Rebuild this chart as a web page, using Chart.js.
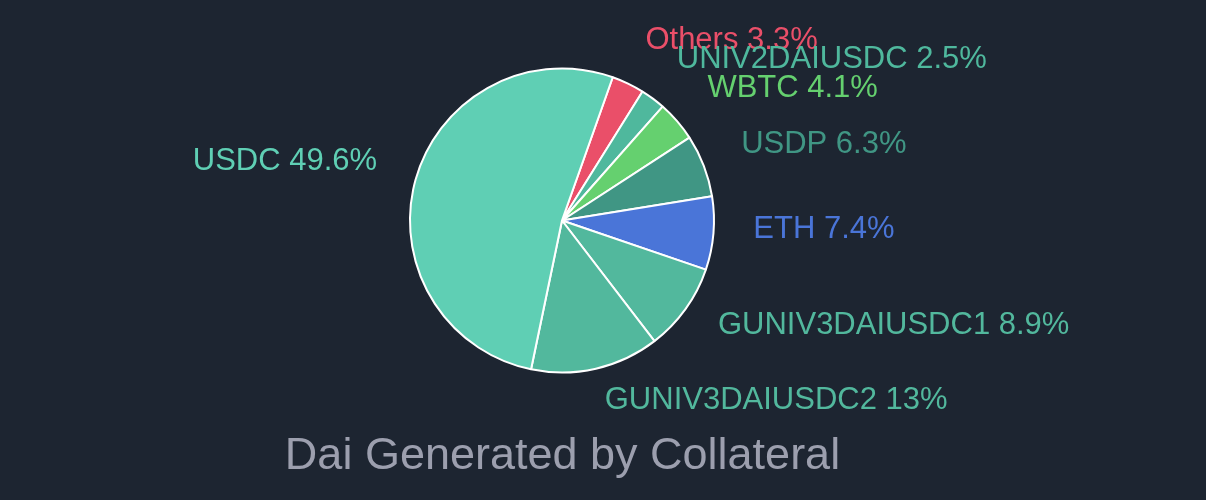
<!DOCTYPE html>
<html>
<head>
<meta charset="utf-8">
<script src="https://cdn.jsdelivr.net/npm/chart.js@4"></script>
<style>
  html, body { margin: 0; padding: 0; background: #1d2531; }
  #wrap { width: 1206px; height: 500px; position: relative; }
</style>
</head>
<body>
<div id="wrap"><canvas id="c" width="1206" height="500"></canvas></div>
<script>
// Data (listed clockwise from the top-right)
const categories = ['Others', 'UNIV2DAIUSDC', 'WBTC', 'USDP', 'ETH', 'GUNIV3DAIUSDC1', 'GUNIV3DAIUSDC2', 'USDC'];
const shares = [3.3, 2.5, 4.1, 6.3, 7.4, 8.9, 13, 49.6];
const shareLabels = ['3.3%', '2.5%', '4.1%', '6.3%', '7.4%', '8.9%', '13%', '49.6%'];
const sliceColors = ['#ea4f69', '#4fb89d', '#65d06f', '#409684', '#4a75d8', '#52b89d', '#52b89d', '#5fcfb4'];
const titleText = 'Dai Generated by Collateral';

const labelPlugin = {
  id: 'outerLabels',
  afterDatasetsDraw(chart) {
    const ctx = chart.ctx;
    const meta = chart.getDatasetMeta(0);
    ctx.save();
    ctx.font = '31px "Liberation Sans", Arial, sans-serif';
    ctx.textBaseline = 'middle';
    meta.data.forEach((arc, i) => {
      const p = arc.getProps(['x', 'y', 'startAngle', 'endAngle', 'outerRadius'], true);
      const mid = (p.startAngle + p.endAngle) / 2;
      const r = p.outerRadius + 40;
      const x = p.x + Math.cos(mid) * r;
      const y = p.y + Math.sin(mid) * r - 7;
      ctx.textAlign = Math.cos(mid) >= 0 ? 'left' : 'right';
      ctx.fillStyle = sliceColors[i];
      ctx.fillText(categories[i] + ' ' + shareLabels[i], x, y);
    });
    // title
    ctx.font = '45px "Liberation Sans", Arial, sans-serif';
    ctx.fillStyle = '#9c9fae';
    ctx.textAlign = 'center';
    ctx.fillText(titleText, 562.5, 457);
    ctx.restore();
  }
};

new Chart(document.getElementById('c'), {
  type: 'pie',
  data: {
    labels: categories,
    datasets: [{
      data: shares,
      backgroundColor: sliceColors,
      borderColor: '#ffffff',
      borderWidth: 2
    }]
  },
  options: {
    responsive: false,
    animation: false,
    rotation: 19.5,
    layout: { padding: { left: 409, right: 491, top: 67, bottom: 126 } },
    plugins: {
      legend: { display: false },
      title: { display: false },
      tooltip: { enabled: false }
    }
  },
  plugins: [labelPlugin]
});
</script>
</body>
</html>
